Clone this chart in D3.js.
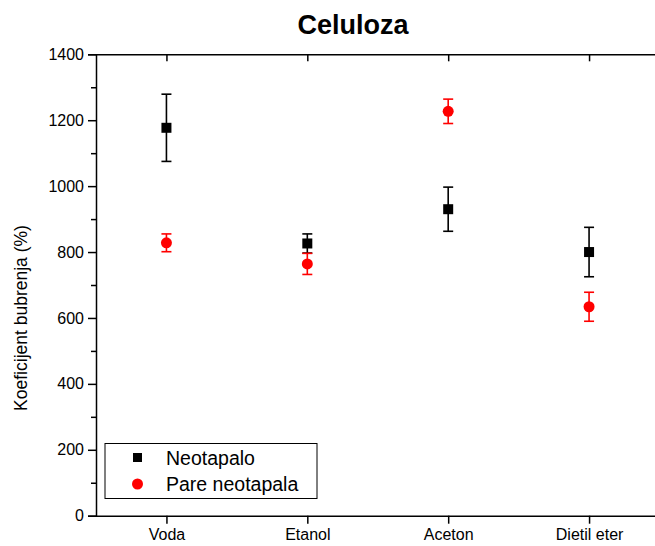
<!DOCTYPE html>
<html>
<head>
<meta charset="utf-8">
<script src="https://cdn.jsdelivr.net/npm/d3@7"></script>
<style>
  html, body { margin: 0; padding: 0; background: #fff; }
  svg { display: block; font-family: "Liberation Sans", Arial, sans-serif; }
</style>
</head>
<body>
<svg id="chart" width="655" height="546"></svg>
<script>
const categories = ["Voda", "Etanol", "Aceton", "Dietil eter"];
const neotapaloValues = [1177, 826, 930, 800];
const neotapaloErrors = [102, 29, 67, 75];
const pareValues = [828, 764, 1227, 634];
const pareErrors = [27, 32, 37, 44];
const yMajorTicks = [0, 200, 400, 600, 800, 1000, 1200, 1400];
const yMinorTicks = [100, 300, 500, 700, 900, 1100, 1300];
const seriesNames = ["Neotapalo", "Pare neotapala"];

(function () {
const svg = d3.select("#chart");
const pL = 96, pR = 659.5, pT = 54.3, pB = 515.7;
const tickFont = 16;

const x = d3.scalePoint().domain(categories).range([pL, pR]).padding(0.5);
const y = d3.scaleLinear().domain([0, 1400]).range([pB, pT]);

// Title
svg.append("text").attr("x", 353).attr("y", 34).attr("text-anchor", "middle")
  .attr("font-size", 27).attr("font-weight", "bold").text("Celuloza");

// Left axis (major)
const gL = svg.append("g").attr("transform", `translate(${pL},0)`)
  .call(d3.axisLeft(y).tickValues(yMajorTicks).tickSize(8).tickPadding(4).tickFormat(d3.format("d")));
gL.selectAll("text").attr("font-size", tickFont).attr("fill", "#000").attr("font-family", "Liberation Sans, Arial, sans-serif");
// minor
svg.append("g").attr("transform", `translate(${pL},0)`)
  .call(d3.axisLeft(y).tickValues(yMinorTicks).tickSize(5).tickFormat(""))
  .select(".domain").remove();

// Right axis (inward ticks)
svg.append("g").attr("transform", `translate(${pR},0)`)
  .call(d3.axisLeft(y).tickValues(yMajorTicks).tickSize(-7).tickFormat(""));

// Bottom axis
const gB = svg.append("g").attr("transform", `translate(0,${pB})`)
  .call(d3.axisBottom(x).tickSize(8).tickPadding(5).tickSizeOuter(0));
gB.selectAll("text").attr("font-size", tickFont).attr("fill", "#000").attr("font-family", "Liberation Sans, Arial, sans-serif");

// Top axis (inward ticks)
svg.append("g").attr("transform", `translate(0,${pT})`)
  .call(d3.axisTop(x).tickSize(-7).tickFormat("").tickSizeOuter(0));

svg.selectAll(".domain, .tick line").attr("stroke", "#000").attr("stroke-width", 1.5);

// Y label
svg.append("text").attr("transform", `translate(27,318) rotate(-90)`)
  .attr("text-anchor", "middle").attr("font-size", 17.5).text("Koeficijent bubrenja (%)");

function drawSeries(values, errors, color, shape) {
  const g = svg.append("g");
  const capW = 5;
  categories.forEach((c, i) => {
    const cx = x(c), v = values[i], e = errors[i];
    g.append("line").attr("x1", cx).attr("x2", cx).attr("y1", y(v + e)).attr("y2", y(v - e))
      .attr("stroke", color).attr("stroke-width", 1.6);
    [v + e, v - e].forEach(t => g.append("line").attr("x1", cx - capW).attr("x2", cx + capW)
      .attr("y1", y(t)).attr("y2", y(t)).attr("stroke", color).attr("stroke-width", 1.6));
    if (shape === "square") {
      g.append("rect").attr("x", cx - 5).attr("y", y(v) - 5).attr("width", 10).attr("height", 10).attr("fill", color);
    } else {
      g.append("circle").attr("cx", cx).attr("cy", y(v)).attr("r", 5.5).attr("fill", color);
    }
  });
}
drawSeries(neotapaloValues, neotapaloErrors, "#000", "square");
drawSeries(pareValues, pareErrors, "#ff0000", "circle");

// Legend
const lg = svg.append("g");
lg.append("rect").attr("x", 105).attr("y", 443.5).attr("width", 212).attr("height", 55)
  .attr("fill", "#fff").attr("stroke", "#000").attr("stroke-width", 1);
lg.append("rect").attr("x", 133).attr("y", 453).attr("width", 9).attr("height", 9).attr("fill", "#000");
lg.append("circle").attr("cx", 137.5).attr("cy", 484).attr("r", 5.5).attr("fill", "#ff0000");
lg.append("text").attr("x", 166).attr("y", 465).attr("font-size", 19.5).text(seriesNames[0]);
lg.append("text").attr("x", 166).attr("y", 491).attr("font-size", 19.5).text(seriesNames[1]);
})();
</script>
</body>
</html>
